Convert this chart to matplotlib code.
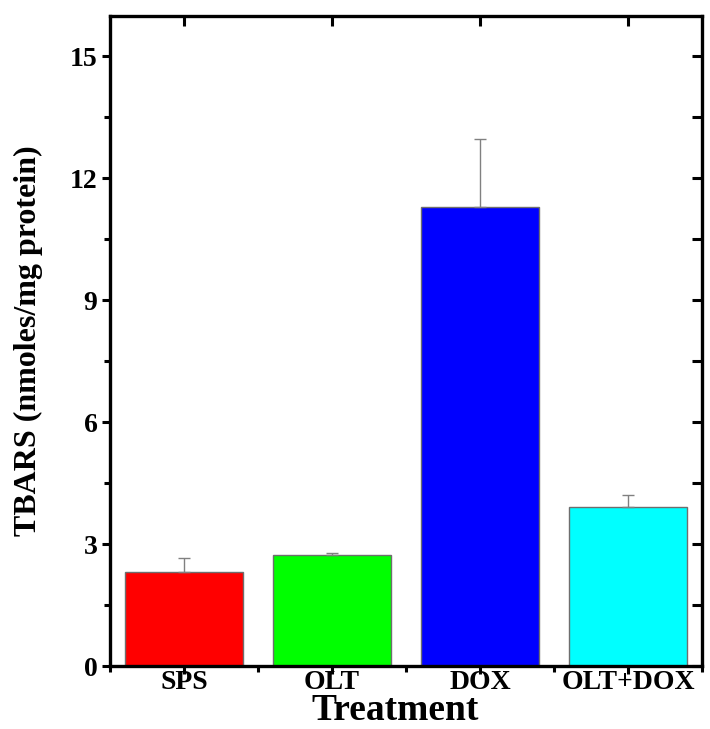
import matplotlib

matplotlib.use("Agg")
import matplotlib.pyplot as plt
from matplotlib.ticker import MultipleLocator, FixedLocator

# values
groups = ["SPS", "OLT", "DOX", "OLT+DOX"]
tbars = [2.31, 2.73, 11.30, 3.91]
sem = [0.34, 0.05, 1.67, 0.29]
bar_colors = ["#ff0000", "#00ff00", "#0000ff", "#00ffff"]

plt.rcParams["font.family"] = ["Liberation Serif", "DejaVu Serif"]
plt.rcParams["font.weight"] = "bold"

fig = plt.figure(figsize=(7.10, 7.29), dpi=100)
ax = fig.add_axes([0.155, 0.0864, 0.834, 0.892])

xs = list(range(1, len(groups) + 1))
ax.bar(xs, tbars, width=0.8, color=bar_colors, edgecolor="#6e6e6e", linewidth=1.0, zorder=2)
ax.errorbar(xs, tbars, yerr=[[0] * len(sem), sem], fmt="none", ecolor="#808080",
            elinewidth=1.0, capsize=4, capthick=1.0, zorder=3)

ax.set_xlim(0.5, 4.5)
ax.set_ylim(0, 16)
ax.set_xticks(xs)
ax.set_xticklabels(groups, fontsize=20, fontweight="bold")
ax.xaxis.set_minor_locator(FixedLocator([0.5, 1.5, 2.5, 3.5, 4.5]))
ax.yaxis.set_major_locator(MultipleLocator(3))
ax.yaxis.set_minor_locator(MultipleLocator(1.5))
for lab in ax.get_yticklabels():
    lab.set_fontsize(20)
    lab.set_fontweight("bold")

for side in ("left", "right", "top", "bottom"):
    ax.spines[side].set_linewidth(2.4)

ax.tick_params(axis="both", which="major", direction="out", length=6, width=2.2)
ax.tick_params(axis="both", which="minor", direction="out", length=4, width=2.2)
ax.tick_params(axis="x", which="major", top=True, pad=-3)
ax.tick_params(axis="y", which="both", right=True)
ax.tick_params(axis="y", which="major", pad=3)

# ticks on the right and top point inward
for t in ax.yaxis.get_major_ticks() + ax.yaxis.get_minor_ticks():
    t.tick2line.set_marker(matplotlib.markers.TICKLEFT)
    t.tick2line.set_markersize(7)
for t in ax.xaxis.get_major_ticks():
    t.tick2line.set_marker(matplotlib.markers.TICKDOWN)
    t.tick2line.set_markersize(7)

fig.text(395 / 710, 0.001, "Treatment", fontsize=27, fontweight="bold",
         ha="center", va="bottom")
ax.set_ylabel("TBARS (nmoles/mg protein)", fontsize=23, fontweight="bold", labelpad=19)

fig.savefig("out.png", dpi=100)
